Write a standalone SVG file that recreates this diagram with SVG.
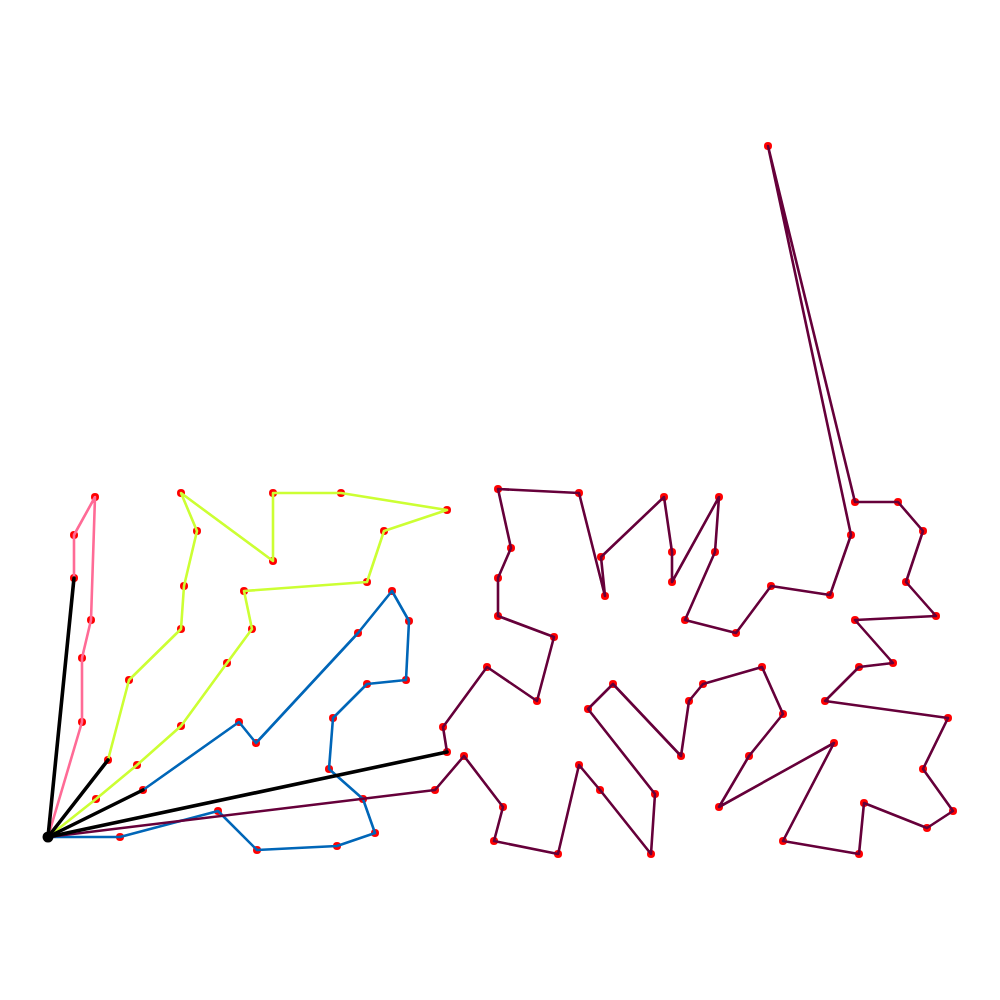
<svg xmlns="http://www.w3.org/2000/svg" width="1000" height="1000" viewBox="0 0 1000 1000">
<style>
.n{fill:#ff0000;stroke:none}
.r{fill:none;stroke-width:2.6;stroke-linejoin:round;stroke-linecap:round}
.k{fill:none;stroke:#000;stroke-width:3.6;stroke-linecap:round}
</style>
<rect width="1000" height="1000" fill="#fff"/>
<g id="nodes">
<g id="pink-nodes">
<circle class="n" cx="82" cy="722" r="4"/><circle class="n" cx="82" cy="658" r="4"/><circle class="n" cx="91" cy="620" r="4"/><circle class="n" cx="95" cy="497" r="4"/><circle class="n" cx="74" cy="535" r="4"/><circle class="n" cx="74" cy="578" r="4"/>
</g>
<g id="lime-nodes">
<circle class="n" cx="96" cy="799" r="4"/><circle class="n" cx="137" cy="765" r="4"/><circle class="n" cx="181" cy="726" r="4"/><circle class="n" cx="227" cy="663" r="4"/><circle class="n" cx="252" cy="629" r="4"/><circle class="n" cx="244" cy="591" r="4"/><circle class="n" cx="367" cy="582" r="4"/><circle class="n" cx="384" cy="531" r="4"/><circle class="n" cx="447" cy="510" r="4"/><circle class="n" cx="341" cy="493" r="4"/><circle class="n" cx="273" cy="493" r="4"/><circle class="n" cx="273" cy="561" r="4"/><circle class="n" cx="181" cy="493" r="4"/><circle class="n" cx="197" cy="531" r="4"/><circle class="n" cx="184" cy="586" r="4"/><circle class="n" cx="181" cy="629" r="4"/><circle class="n" cx="129" cy="680" r="4"/><circle class="n" cx="108" cy="760" r="4"/>
</g>
<g id="blue-nodes">
<circle class="n" cx="120" cy="837" r="4"/><circle class="n" cx="218" cy="811" r="4"/><circle class="n" cx="257" cy="850" r="4"/><circle class="n" cx="337" cy="846" r="4"/><circle class="n" cx="375" cy="833" r="4"/><circle class="n" cx="363" cy="799" r="4"/><circle class="n" cx="329" cy="769" r="4"/><circle class="n" cx="333" cy="718" r="4"/><circle class="n" cx="367" cy="684" r="4"/><circle class="n" cx="406" cy="680" r="4"/><circle class="n" cx="409" cy="621" r="4"/><circle class="n" cx="392" cy="591" r="4"/><circle class="n" cx="358" cy="633" r="4"/><circle class="n" cx="256" cy="743" r="4"/><circle class="n" cx="239" cy="722" r="4"/><circle class="n" cx="143" cy="790" r="4"/>
</g>
<g id="maroon-nodes">
<circle class="n" cx="435" cy="790" r="4"/><circle class="n" cx="464" cy="756" r="4"/><circle class="n" cx="503" cy="807" r="4"/><circle class="n" cx="494" cy="841" r="4"/><circle class="n" cx="558" cy="854" r="4"/><circle class="n" cx="579" cy="765" r="4"/><circle class="n" cx="600" cy="790" r="4"/><circle class="n" cx="651" cy="854" r="4"/><circle class="n" cx="655" cy="794" r="4"/><circle class="n" cx="588" cy="709" r="4"/><circle class="n" cx="613" cy="684" r="4"/><circle class="n" cx="681" cy="756" r="4"/><circle class="n" cx="689" cy="701" r="4"/><circle class="n" cx="703" cy="684" r="4"/><circle class="n" cx="762" cy="667" r="4"/><circle class="n" cx="783" cy="714" r="4"/><circle class="n" cx="749" cy="756" r="4"/><circle class="n" cx="719" cy="807" r="4"/><circle class="n" cx="834" cy="743" r="4"/><circle class="n" cx="783" cy="841" r="4"/><circle class="n" cx="859" cy="854" r="4"/><circle class="n" cx="864" cy="803" r="4"/><circle class="n" cx="927" cy="828" r="4"/><circle class="n" cx="953" cy="811" r="4"/><circle class="n" cx="923" cy="769" r="4"/><circle class="n" cx="948" cy="718" r="4"/><circle class="n" cx="825" cy="701" r="4"/><circle class="n" cx="859" cy="667" r="4"/><circle class="n" cx="893" cy="663" r="4"/><circle class="n" cx="855" cy="620" r="4"/><circle class="n" cx="936" cy="616" r="4"/><circle class="n" cx="906" cy="582" r="4"/><circle class="n" cx="923" cy="531" r="4"/><circle class="n" cx="898" cy="502" r="4"/><circle class="n" cx="855" cy="502" r="4"/><circle class="n" cx="768" cy="146" r="4"/><circle class="n" cx="851" cy="535" r="4"/><circle class="n" cx="830" cy="595" r="4"/><circle class="n" cx="771" cy="586" r="4"/><circle class="n" cx="736" cy="633" r="4"/><circle class="n" cx="685" cy="620" r="4"/><circle class="n" cx="715" cy="552" r="4"/><circle class="n" cx="719" cy="497" r="4"/><circle class="n" cx="672" cy="582" r="4"/><circle class="n" cx="672" cy="552" r="4"/><circle class="n" cx="664" cy="497" r="4"/><circle class="n" cx="601" cy="557" r="4"/><circle class="n" cx="605" cy="596" r="4"/><circle class="n" cx="579" cy="493" r="4"/><circle class="n" cx="498" cy="489" r="4"/><circle class="n" cx="511" cy="548" r="4"/><circle class="n" cx="498" cy="578" r="4"/><circle class="n" cx="498" cy="616" r="4"/><circle class="n" cx="554" cy="637" r="4"/><circle class="n" cx="537" cy="701" r="4"/><circle class="n" cx="487" cy="667" r="4"/><circle class="n" cx="443" cy="727" r="4"/><circle class="n" cx="447" cy="752" r="4"/>
</g>
</g>
<g id="connectors">
<polyline class="r" stroke="#ff6b96" points="48,837 82,722 82,658 91,620 95,497 74,535 74,578"/>
<polyline class="r" stroke="#ccff33" points="48,837 96,799 137,765 181,726 227,663 252,629 244,591 367,582 384,531 447,510 341,493 273,493 273,561 181,493 197,531 184,586 181,629 129,680 108,760"/>
<polyline class="r" stroke="#0066b8" points="48,837 120,837 218,811 257,850 337,846 375,833 363,799 329,769 333,718 367,684 406,680 409,621 392,591 358,633 256,743 239,722 143,790"/>
<polyline class="r" stroke="#66003a" points="48,837 435,790 464,756 503,807 494,841 558,854 579,765 600,790 651,854 655,794 588,709 613,684 681,756 689,701 703,684 762,667 783,714 749,756 719,807 834,743 783,841 859,854 864,803 927,828 953,811 923,769 948,718 825,701 859,667 893,663 855,620 936,616 906,582 923,531 898,502 855,502 768,146 851,535 830,595 771,586 736,633 685,620 715,552 719,497 672,582 672,552 664,497 601,557 605,596 579,493 498,489 511,548 498,578 498,616 554,637 537,701 487,667 443,727 447,752"/>
<line class="k" x1="48" y1="837" x2="74" y2="578"/>
<line class="k" x1="48" y1="837" x2="108" y2="760"/>
<line class="k" x1="48" y1="837" x2="143" y2="790"/>
<line class="k" x1="48" y1="837" x2="447" y2="752"/>
</g>
<g id="depot"><circle cx="48" cy="837" r="5.5" fill="#000"/></g>
</svg>
